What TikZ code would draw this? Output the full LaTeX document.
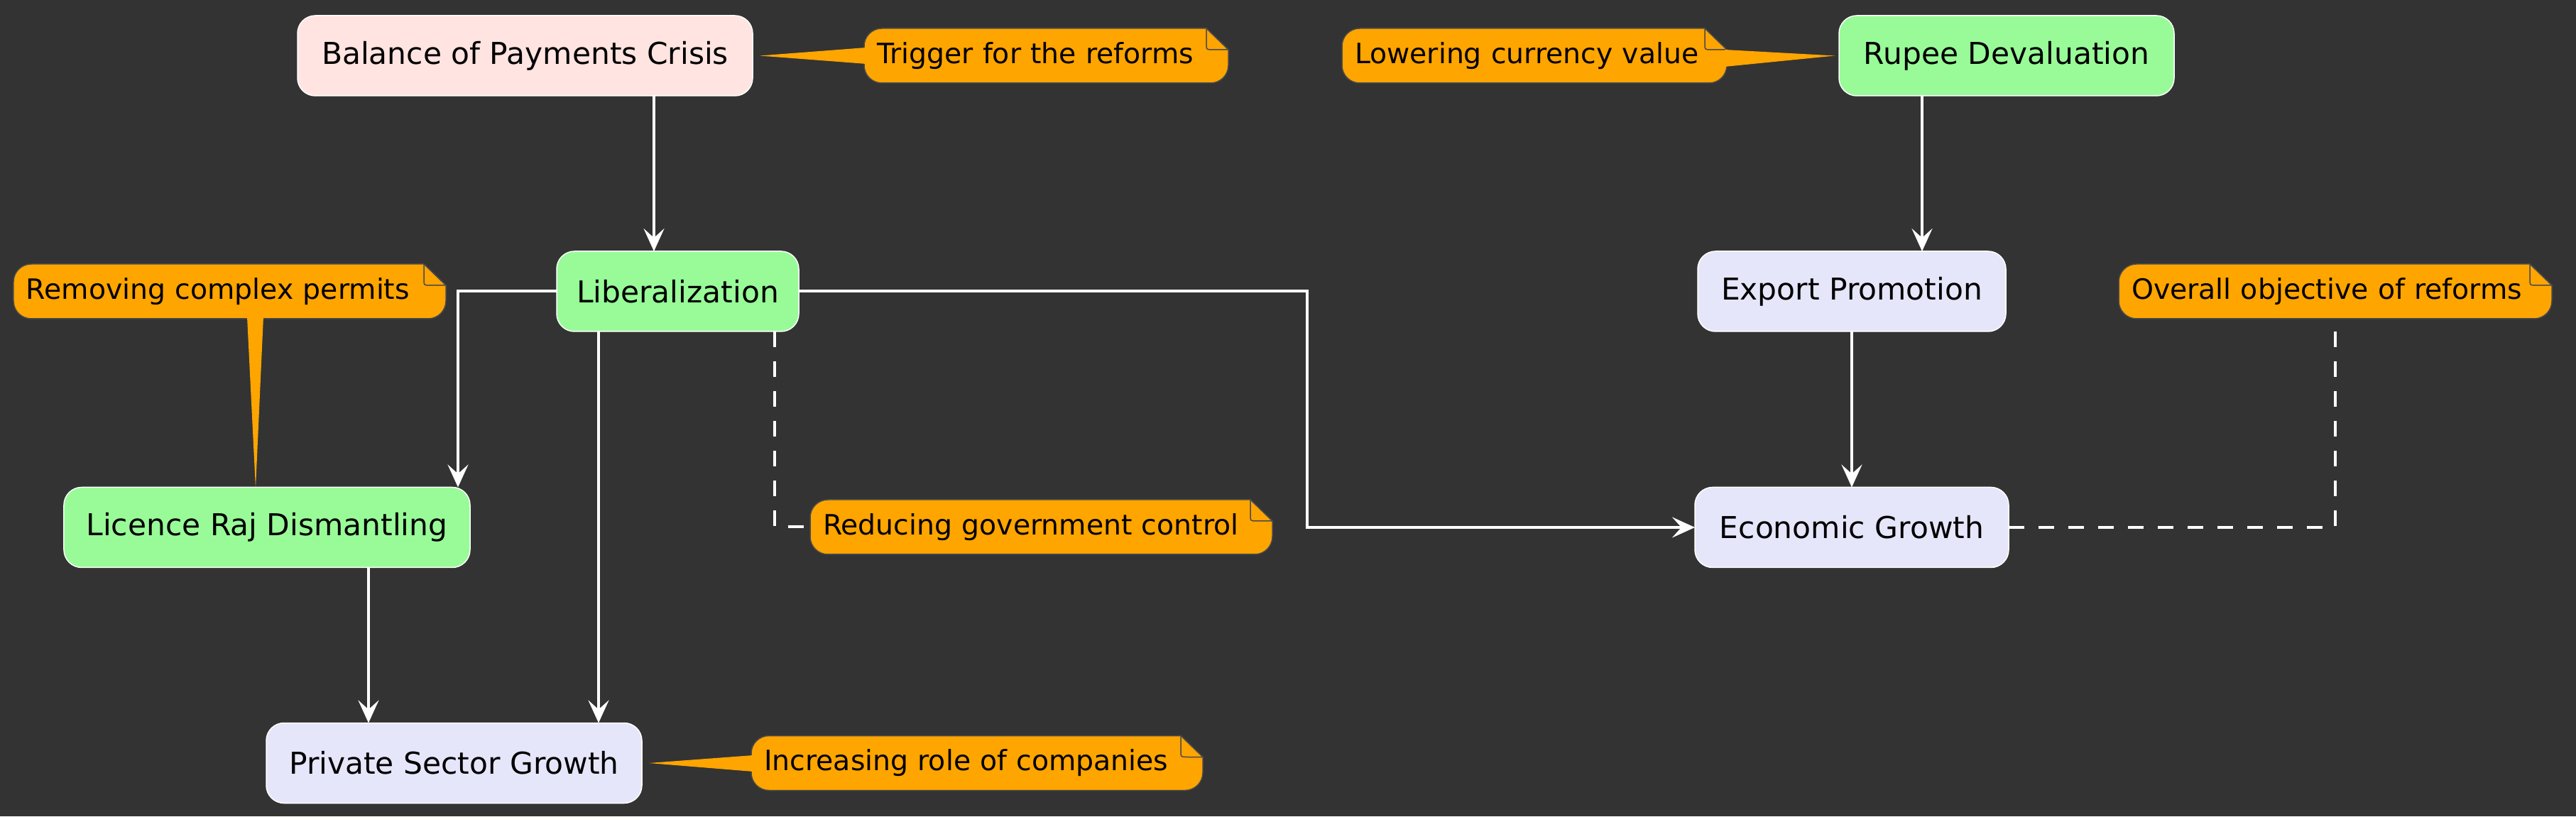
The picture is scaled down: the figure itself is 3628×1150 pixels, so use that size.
\documentclass[tikz,border=0pt]{standalone}
\usepackage{fontspec}
\setmainfont{DejaVu Sans}
\usetikzlibrary{arrows.meta,backgrounds}
\definecolor{bgc}{HTML}{333333}
\definecolor{rosec}{HTML}{FFE4E1}
\definecolor{greenc}{HTML}{98FB98}
\definecolor{lavc}{HTML}{E6E6FA}
\definecolor{notec}{HTML}{FFA500}
\definecolor{noteline}{HTML}{4A4A4A}
\tikzset{
 box/.style={draw=white, line width=1.5bp, rounded corners=25bp, minimum height=113bp, inner sep=0pt, outer sep=0pt, font=\fontsize{42.4bp}{50bp}\selectfont, text=black},
 notetxt/.style={minimum height=77bp, inner xsep=18bp, inner ysep=0pt, outer sep=0pt, align=left, font=\fontsize{39.4bp}{46bp}\selectfont, text=black},
 notebody/.style={fill=notec, draw=noteline, line width=1.5bp},
 callout/.style={fill=notec},
 arr/.style={draw=white, line width=4bp, -{Stealth[length=32bp,width=29bp,inset=13bp]}},
 dashline/.style={draw=white, line width=4bp, dash pattern=on 22bp off 20bp},
}
\newcommand\notebg[1]{%
 \path[notebody] ([xshift=25bp]#1.north west) -- ([xshift=-31bp]#1.north east) -- ([yshift=-30bp]#1.north east) -- ([yshift=25bp]#1.south east) arc[start angle=0,end angle=-90,radius=25bp] -- ([xshift=25bp]#1.south west) arc[start angle=-90,end angle=-180,radius=25bp] -- ([yshift=-25bp]#1.north west) arc[start angle=180,end angle=90,radius=25bp] -- cycle;
 \path[notebody] ([xshift=-31bp]#1.north east) -- ([xshift=-31bp,yshift=-22bp]#1.north east) .. controls ([xshift=-31bp,yshift=-30bp]#1.north east) .. ([xshift=-22bp,yshift=-30bp]#1.north east) -- ([yshift=-30bp]#1.north east) -- cycle;
}
\begin{document}
\begin{tikzpicture}[x=1bp,y=1bp]
\useasboundingbox (0,0) rectangle (3628,1150);
% nodes
\node[box, fill=rosec, minimum width=641bp] (bop) at (739.5,1071.5) {Balance of Payments Crisis};
\node[box, fill=greenc, minimum width=472bp] (rupee) at (2826,1071.5) {Rupee Devaluation};
\node[box, fill=greenc, minimum width=341bp] (lib) at (954.5,739.5) {Liberalization};
\node[box, fill=greenc, minimum width=572bp] (licence) at (376,407) {Licence Raj Dismantling};
\node[box, fill=lavc, minimum width=529bp] (private) at (639.5,75) {Private Sector Growth};
\node[box, fill=lavc, minimum width=434bp] (export) at (2608,739.5) {Export Promotion};
\node[box, fill=lavc, minimum width=442bp] (econ) at (2608,407) {Economic Growth};
% notes
\node[notetxt, text width=477bp] (trig) at (1473.5,1071.5) {Trigger for the reforms};
\node[notetxt, text width=506bp] (lower) at (2161,1071.5) {Lowering currency value};
\node[notetxt, text width=573bp] (remov) at (323.5,739.5) {Removing complex permits};
\node[notetxt, text width=615bp] (reduc) at (1466.5,407.5) {Reducing government control};
\node[notetxt, text width=574bp] (overall) at (3289,739.5) {Overall objective of reforms};
\node[notetxt, text width=600bp] (incr) at (1376,75) {Increasing role of companies};
% helper coordinates
\coordinate (c1) at (921,0);
\coordinate (c2) at (2707,0);
\coordinate (c3) at (645,0);
\coordinate (c4) at (843,0);
\coordinate (c5) at (519,0);
\coordinate (c6) at (1841,0);
\coordinate (c7) at (1091,0);
% connectors
\draw[arr] (bop.south -| c1) -- (lib.north -| c1);
\draw[arr] (rupee.south -| c2) -- (export.north -| c2);
\draw[arr] (export) -- (econ);
\draw[arr] (lib.west) -| (c3 |- licence.north);
\draw[arr] (lib.south -| c4) -- (private.north -| c4);
\draw[arr] (licence.south -| c5) -- (private.north -| c5);
\draw[arr] (lib.east) -| (c6 |- econ.west) -- (econ.west);
\draw[dashline] (lib.south -| c7) |- (reduc.west);
\draw[dashline] (econ.east) -| (overall.south);
% background layer: canvas, note bodies, callouts
\begin{scope}[on background layer]
\fill[bgc] (0,0) rectangle (3628,1150);
\notebg{trig}
\notebg{lower}
\notebg{remov}
\notebg{reduc}
\notebg{overall}
\notebg{incr}
\fill[callout] ([xshift=10bp]bop.east) -- ([xshift=3bp,yshift=11.5bp]trig.west) -- ([xshift=3bp,yshift=-11.5bp]trig.west) -- cycle;
\fill[callout] ([xshift=-6bp]rupee.west) -- ([xshift=-3bp,yshift=8.5bp]lower.east) -- ([xshift=-3bp,yshift=-15.5bp]lower.east) -- cycle;
\fill[callout] ([xshift=-16bp,yshift=-1bp]licence.north) -- ([xshift=24.5bp,yshift=3bp]remov.south) -- ([xshift=47.5bp,yshift=3bp]remov.south) -- cycle;
\fill[callout] ([xshift=10bp]private.east) -- ([xshift=3bp,yshift=11bp]incr.west) -- ([xshift=3bp,yshift=-12bp]incr.west) -- cycle;
\end{scope}
\end{tikzpicture}
\end{document}
